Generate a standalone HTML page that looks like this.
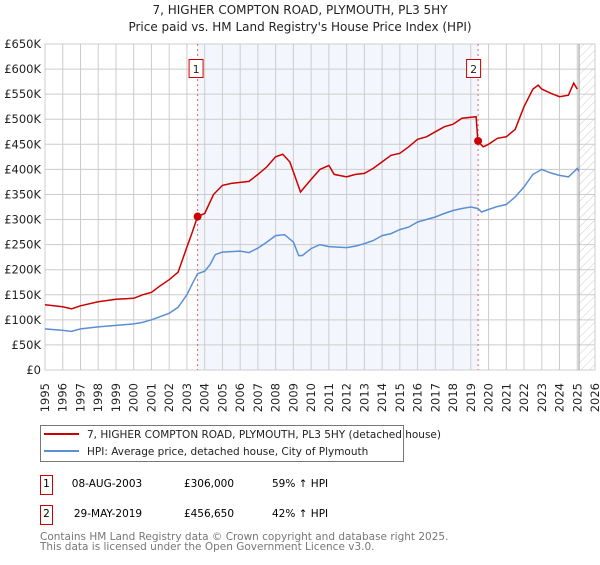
<!DOCTYPE html>
<html><head><meta charset="utf-8"><style>
body{margin:0;background:#fff;font-family:"Liberation Sans","DejaVu Sans",sans-serif;}
svg text{font-family:"DejaVu Sans","Liberation Sans",sans-serif;}
</style></head><body>
<svg id="c" width="600" height="560" xmlns="http://www.w3.org/2000/svg">
<defs><pattern id="hatch" width="6" height="6" patternUnits="userSpaceOnUse" patternTransform="rotate(45)"><line x1="0" y1="0" x2="0" y2="6" stroke="#ccc" stroke-width="1"/></pattern></defs>
<text x="300" y="14" text-anchor="middle" font-size="12" fill="#222">7, HIGHER COMPTON ROAD, PLYMOUTH, PL3 5HY</text>
<text x="300" y="31" text-anchor="middle" font-size="12" fill="#222">Price paid vs. HM Land Registry's House Price Index (HPI)</text>
<g id="plot"></g>
<g>
<rect x="40.5" y="425.5" width="363" height="36" fill="#fff" stroke="#777"/>
<line x1="44" y1="434" x2="79" y2="434" stroke="#cc0000" stroke-width="2"/>
<text x="87" y="438" font-size="10.5" fill="#222">7, HIGHER COMPTON ROAD, PLYMOUTH, PL3 5HY (detached house)</text>
<line x1="44" y1="451" x2="79" y2="451" stroke="#5b8fd4" stroke-width="2"/>
<text x="87" y="455" font-size="10.5" fill="#222">HPI: Average price, detached house, City of Plymouth</text>
</g>
<g>
<rect x="40.5" y="475.5" width="12" height="19" fill="#fff" stroke="#cc0000"/>
<text x="46.5" y="487" text-anchor="middle" font-size="10.5">1</text>
<text x="107" y="487" text-anchor="middle" font-size="10.5">08-AUG-2003</text>
<text x="209" y="487" text-anchor="middle" font-size="10.5">£306,000</text>
<text x="272" y="487" font-size="10.5">59% ↑ HPI</text>
</g>
<g>
<rect x="40.5" y="505.5" width="12" height="19" fill="#fff" stroke="#cc0000"/>
<text x="46.5" y="517" text-anchor="middle" font-size="10.5">2</text>
<text x="108" y="517" text-anchor="middle" font-size="10.5">29-MAY-2019</text>
<text x="209" y="517" text-anchor="middle" font-size="10.5">£456,650</text>
<text x="272" y="517" font-size="10.5">42% ↑ HPI</text>
</g>
<text x="40" y="540" font-size="10.5" fill="#777">Contains HM Land Registry data © Crown copyright and database right 2025.</text>
<text x="40" y="550" font-size="10.5" fill="#777">This data is licensed under the Open Government Licence v3.0.</text>
</svg>
<script>
const hpiYears=[1995,1996,1996.5,1997,1998,1999,2000,2000.5,2001,2002,2002.5,2003,2003.3,2003.6,2004,2004.3,2004.6,2005,2006,2006.5,2007,2007.5,2008,2008.5,2009,2009.3,2009.5,2010,2010.5,2011,2011.5,2012,2012.5,2013,2013.5,2014,2014.5,2015,2015.5,2016,2016.5,2017,2017.5,2018,2018.5,2019,2019.4,2019.6,2020,2020.5,2021,2021.5,2022,2022.5,2023,2023.5,2024,2024.5,2024.8,2025,2025.1];
const hpiValues=[82,79,77,82,86,89,92,95,100,113,125,150,172,192,197,210,230,235,237,234,243,255,268,270,255,228,228,242,250,246,245,244,247,252,258,268,272,280,285,295,300,305,312,318,322,325,322,315,320,326,330,345,365,390,400,393,388,385,395,402,396];
const propYears=[1995,1996,1996.5,1997,1998,1999,2000,2000.5,2001,2001.5,2002,2002.5,2003,2003.3,2003.6,2004,2004.5,2005,2005.5,2006,2006.5,2007,2007.5,2008,2008.4,2008.8,2009,2009.4,2010,2010.5,2011,2011.3,2012,2012.5,2013,2013.5,2014,2014.5,2015,2015.5,2016,2016.5,2017,2017.5,2018,2018.5,2019.3,2019.4,2019.7,2020,2020.5,2021,2021.5,2022,2022.5,2022.8,2023,2023.5,2024,2024.5,2024.8,2025];
const propValues=[130,126,122,128,136,141,143,150,155,168,180,195,245,275,306,312,350,368,372,374,376,390,405,425,430,415,395,355,380,400,408,390,385,390,392,402,415,428,432,445,460,465,475,485,490,502,505,456,445,450,462,465,480,525,560,568,560,552,545,548,572,560];
const saleYears=[2003.6,2019.41];
const saleValues=[306,456.65];
const saleLabels=["1","2"];
const yTicks=[0,50,100,150,200,250,300,350,400,450,500,550,600,650];
const xTicks=[1995,1996,1997,1998,1999,2000,2001,2002,2003,2004,2005,2006,2007,2008,2009,2010,2011,2012,2013,2014,2015,2016,2017,2018,2019,2020,2021,2022,2023,2024,2025,2026];
const X0=45,X1=595,Y0=370,Y1=44;
const xs=y=>X0+(y-1995)/(2026-1995)*(X1-X0);
const ys=v=>Y0-v/650*(Y0-Y1);
const NS="http://www.w3.org/2000/svg";
const g=document.getElementById('plot');
function mk(t,a){const e=document.createElementNS(NS,t);for(const k in a)e.setAttribute(k,a[k]);g.appendChild(e);return e;}
let r=mk('rect',{x:xs(saleYears[0]),y:Y1,width:xs(saleYears[1])-xs(saleYears[0]),height:Y0-Y1,fill:'#eef3fc',opacity:0.7});


let h=mk('rect',{x:xs(2025.1),y:Y1,width:X1-xs(2025.1),height:Y0-Y1,fill:'url(#hatch)'});


yTicks.forEach(v=>{mk('line',{x1:X0,x2:X1,y1:ys(v),y2:ys(v),stroke:'#ccc'});
 const t=mk('text',{x:X0-4,y:ys(v)+4,'text-anchor':'end','font-size':'11.5',fill:'#222'});t.textContent=v===0?'£0':'£'+v+'K';
 
 });
xTicks.forEach(y=>{mk('line',{x1:xs(y),x2:xs(y),y1:Y1,y2:Y0,stroke:'#ccc'});
 const t=mk('text',{x:0,y:0,'font-size':'11.5',fill:'#222','text-anchor':'end',transform:`translate(${xs(y)+4},${Y0+13}) rotate(-90)`});t.textContent=y;
 
 });
mk('rect',{x:X0,y:Y1,width:X1-X0,height:Y0-Y1,fill:'none',stroke:'#ccc'});
mk('line',{x1:xs(2025.1),x2:xs(2025.1),y1:Y1,y2:Y0,stroke:'#999'});
saleYears.forEach((y,i)=>{const l=mk('line',{x1:xs(y),x2:xs(y),y1:Y1,y2:Y0,stroke:'#e06666','stroke-dasharray':'2,3'});
 
 });
function path(xa,va,col,name){const d=xa.map((y,i)=>(i?'L':'M')+xs(y).toFixed(1)+','+ys(va[i]).toFixed(1)).join('');
 const p=mk('path',{d:d,fill:'none',stroke:col,'stroke-width':1.5});
 
 }
path(hpiYears,hpiValues,'#5b8fd4','hpi-line');
path(propYears,propValues,'#cc0000','property-price-line');
saleYears.forEach((y,i)=>{const c=mk('circle',{cx:xs(y),cy:ys(saleValues[i]),r:4,fill:'#cc0000'});
 
 
 const bx=xs(y)-9-(i?3:0);
 const b=mk('rect',{x:bx+0.5,y:59.5,width:14,height:18,fill:'#fff',stroke:'#cc0000'});
 
 
 const t=mk('text',{x:bx+7.5,y:73,'text-anchor':'middle','font-size':'11',fill:'#222'});t.textContent=saleLabels[i];
 
 });
</script>
</body></html>
